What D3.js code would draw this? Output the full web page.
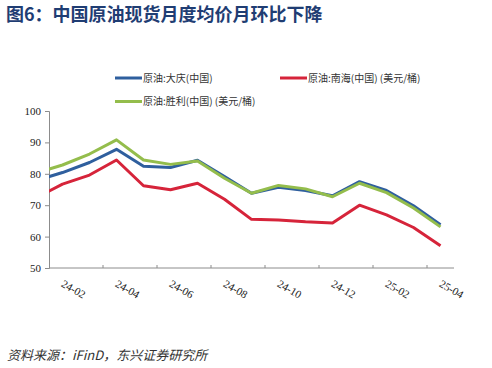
<!DOCTYPE html>
<html><head><meta charset="utf-8">
<script src="https://cdn.jsdelivr.net/npm/d3@7/dist/d3.min.js"></script>
<style>body{margin:0;background:#fff}</style></head>
<body><svg id="c" width="492" height="368"></svg>
<script>
const months = ["24-01","24-02","24-03","24-04","24-05","24-06","24-07","24-08","24-09","24-10","24-11","24-12","25-01","25-02","25-03","25-04"];
const daqing  = [77.8,80.4,83.6,87.8,82.4,82.0,84.3,79.1,73.8,75.7,74.7,73.0,77.5,74.7,69.8,63.8];
const nanhai  = [72.3,76.7,79.6,84.4,76.2,74.9,77.0,71.9,65.5,65.3,64.7,64.3,70.0,66.9,62.9,57.1];
const shengli = [80.2,82.8,86.3,90.8,84.4,83.0,84.1,78.6,73.8,76.3,75.2,72.7,77.0,74.0,69.1,63.1];
const tickLabels = ["24-02","24-04","24-06","24-08","24-10","24-12","25-02","25-04"];
const yTicks = [50,60,70,80,90,100];
const seriesNames = ["原油:大庆(中国)","原油:南海(中国) (美元/桶)","原油:胜利(中国) (美元/桶)"];
const seriesColors = ["#2F5F9E","#D6243A","#94BD4C"];

const svg = d3.select("#c");
const pL = 49, pR = 454, pT = 111, pB = 268;
const x = d3.scaleLinear().domain([0.5, 15.5]).range([pL, pR]);
const y = d3.scaleLinear().domain([50, 100]).range([pB, pT]);

svg.append("text").attr("x", 6).attr("y", 21)
  .attr("font-family", "'Noto Sans CJK SC', sans-serif").attr("font-weight", "bold")
  .attr("font-size", 18).attr("fill", "#1F3D73").text("图6：中国原油现货月度均价月环比下降");

// y axis
const ya = svg.append("g").attr("transform", `translate(${pL},0)`)
  .call(d3.axisLeft(y).tickValues(yTicks).tickSize(4).tickPadding(4).tickFormat(d3.format("d")));
ya.select(".domain").attr("stroke", "#8c8c8c");
ya.selectAll(".tick line").attr("stroke", "#8c8c8c");
ya.selectAll("text").attr("font-family", "'Liberation Serif', serif").attr("font-size", 11).attr("fill", "#222");

// x axis
svg.append("line").attr("x1", pL).attr("x2", pR).attr("y1", pB).attr("y2", pB).attr("stroke", "#8c8c8c");
const tickPos = d3.range(2.5, 15, 2);
svg.selectAll(".xt").data(tickPos).enter().append("line")
  .attr("x1", d => x(d)).attr("x2", d => x(d)).attr("y1", pB).attr("y2", pB - 3).attr("stroke", "#8c8c8c");
svg.selectAll(".xl").data(tickLabels).enter().append("text")
  .attr("transform", d => `translate(${x(months.indexOf(d)) - 2},${pB + 18}) rotate(30)`)
  .attr("font-family", "'Liberation Serif', serif").attr("font-size", 11).attr("fill", "#222").text(d => d);

// lines
svg.append("clipPath").attr("id", "clip").append("rect")
  .attr("x", pL).attr("y", 0).attr("width", pR - pL).attr("height", 368);
const line = d3.line().x((d, i) => x(i)).y(d => y(d));
[daqing, nanhai, shengli].forEach((s, k) => {
  svg.append("path").datum(s).attr("d", line).attr("fill", "none")
    .attr("stroke", seriesColors[k]).attr("stroke-width", 3).attr("stroke-linejoin", "round")
    .attr("clip-path", "url(#clip)");
});

// legend
const legPos = [[115, 78], [280, 78], [115, 101.5]];
seriesNames.forEach((n, k) => {
  const [lx, ly] = legPos[k];
  svg.append("line").attr("x1", lx).attr("x2", lx + 27).attr("y1", ly).attr("y2", ly)
    .attr("stroke", seriesColors[k]).attr("stroke-width", 3);
  svg.append("text").attr("x", lx + 28).attr("y", ly + 3.5)
    .attr("font-family", "'Noto Sans CJK SC', sans-serif").attr("font-size", 10).attr("fill", "#333").text(n);
});

svg.append("text").attr("x", 7).attr("y", 360)
  .attr("font-family", "'Noto Sans CJK SC', sans-serif").attr("font-style", "italic")
  .attr("font-size", 13).attr("fill", "#333").text("资料来源：iFinD，东兴证券研究所");
</script></body></html>
